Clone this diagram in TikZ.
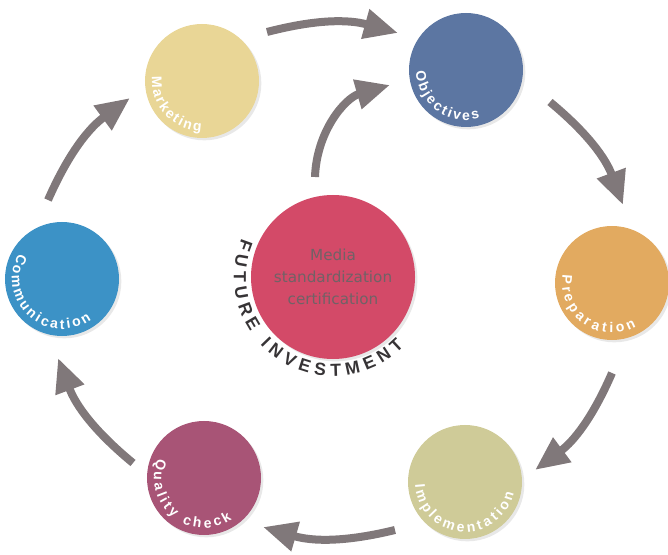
\documentclass[tikz,border=0pt]{standalone}
\usepackage{fontspec}
\setsansfont{Liberation Sans}
\newfontfamily\corefont{DejaVu Sans}
\usetikzlibrary{calc,arrows.meta,decorations.text,shadows}

\definecolor{mktcol}{RGB}{233,214,150}
\definecolor{objcol}{RGB}{92,118,162}
\definecolor{prepcol}{RGB}{226,170,96}
\definecolor{implcol}{RGB}{207,203,152}
\definecolor{qualcol}{RGB}{168,84,118}
\definecolor{commcol}{RGB}{60,146,198}
\definecolor{corecol}{RGB}{211,74,104}
\definecolor{flowcol}{RGB}{128,120,122}
\definecolor{futcol}{RGB}{55,52,54}
\definecolor{coretext}{RGB}{112,98,102}

\newcommand{\lblfont}{\sffamily\bfseries\fontsize{12}{14}\selectfont}
\newcommand{\futfont}{\sffamily\bfseries\fontsize{15}{17}\selectfont}

\tikzset{
	stage/.style={circle, minimum size=3.42cm, inner sep=0pt,
		drop shadow={shadow xshift=2pt, shadow yshift=-2pt, opacity=0.18}},
	flow/.style={line width=0.24cm, color=flowcol, -{Triangle[length=1.02cm, width=0.86cm]}},
	arclabel/.style={decorate, decoration={text along path, text color=white,
		text align={fit to path}, text={|\lblfont|#1}}}
}

\begin{document}
\begin{tikzpicture}[x=0.03cm, y=0.03cm]
	\useasboundingbox (0,0) rectangle (668,554);

	\node[stage, fill=mktcol] (mkt) at (202,473) {};
	\node[stage, fill=objcol] (obj) at (466,484) {};
	\node[stage, fill=prepcol] (prep) at (612,271) {};
	\node[stage, fill=implcol] (impl) at (465,72) {};
	\node[stage, fill=qualcol] (qual) at (204,76) {};
	\node[stage, fill=commcol] (comm) at (62,275) {};
	\node[stage, minimum size=4.92cm, fill=corecol, text=coretext, align=center,
		font=\corefont\fontsize{13}{19}\selectfont] (core) at (333,277)
		{Media\\standardization\\certification};

	\path[arclabel=Marketing] ($(mkt)+(175:50)$) arc[start angle=175, end angle=269, radius=1.5cm];
	\path[arclabel=Objectives] ($(obj)+(182:50)$) arc[start angle=182, end angle=286, radius=1.5cm];
	\path[arclabel=Preparation] ($(prep)+(170:50)$) arc[start angle=170, end angle=299, radius=1.5cm];
	\path[arclabel=Implementation] ($(impl)+(183:50)$) arc[start angle=183, end angle=347, radius=1.5cm];
	\path[arclabel=Quality check] ($(qual)+(157:50)$) arc[start angle=157, end angle=304, radius=1.5cm];
	\path[arclabel=Communication] ($(comm)+(149:50)$) arc[start angle=149, end angle=306, radius=1.5cm];

	\path[decorate, decoration={text along path, text color=futcol, text align={fit to path},
		text={|\futfont|FUTURE INVESTMENT}}]
		($(core)+(157:99)$) arc[start angle=157, end angle=316, radius=2.97cm];

	\coordinate (mkt-out) at (267,522);
	\coordinate (obj-in) at (398,521);
	\coordinate (core-out) at (315,377);
	\coordinate (obj-in2) at (390,469);
	\coordinate (obj-out) at (550,452);
	\coordinate (prep-in) at (623,349);
	\coordinate (prep-out) at (612,181);
	\coordinate (impl-in) at (535,84);
	\coordinate (impl-out) at (395,24);
	\coordinate (qual-in) at (263,27);
	\coordinate (qual-out) at (133,91);
	\coordinate (comm-in) at (58,196);
	\coordinate (comm-out) at (48,354);
	\coordinate (mkt-in) at (130,456);

	\draw[flow] (mkt-out) to[bend left=15] (obj-in);
	\draw[flow] (core-out) to[out=88, in=196] (obj-in2);
	\draw[flow] (obj-out) to[bend left=15] (prep-in);
	\draw[flow] (prep-out) to[bend left=15] (impl-in);
	\draw[flow] (impl-out) to[bend left=15] (qual-in);
	\draw[flow] (qual-out) to[bend left=15] (comm-in);
	\draw[flow] (comm-out) to[bend left=15] (mkt-in);
\end{tikzpicture}
\end{document}
